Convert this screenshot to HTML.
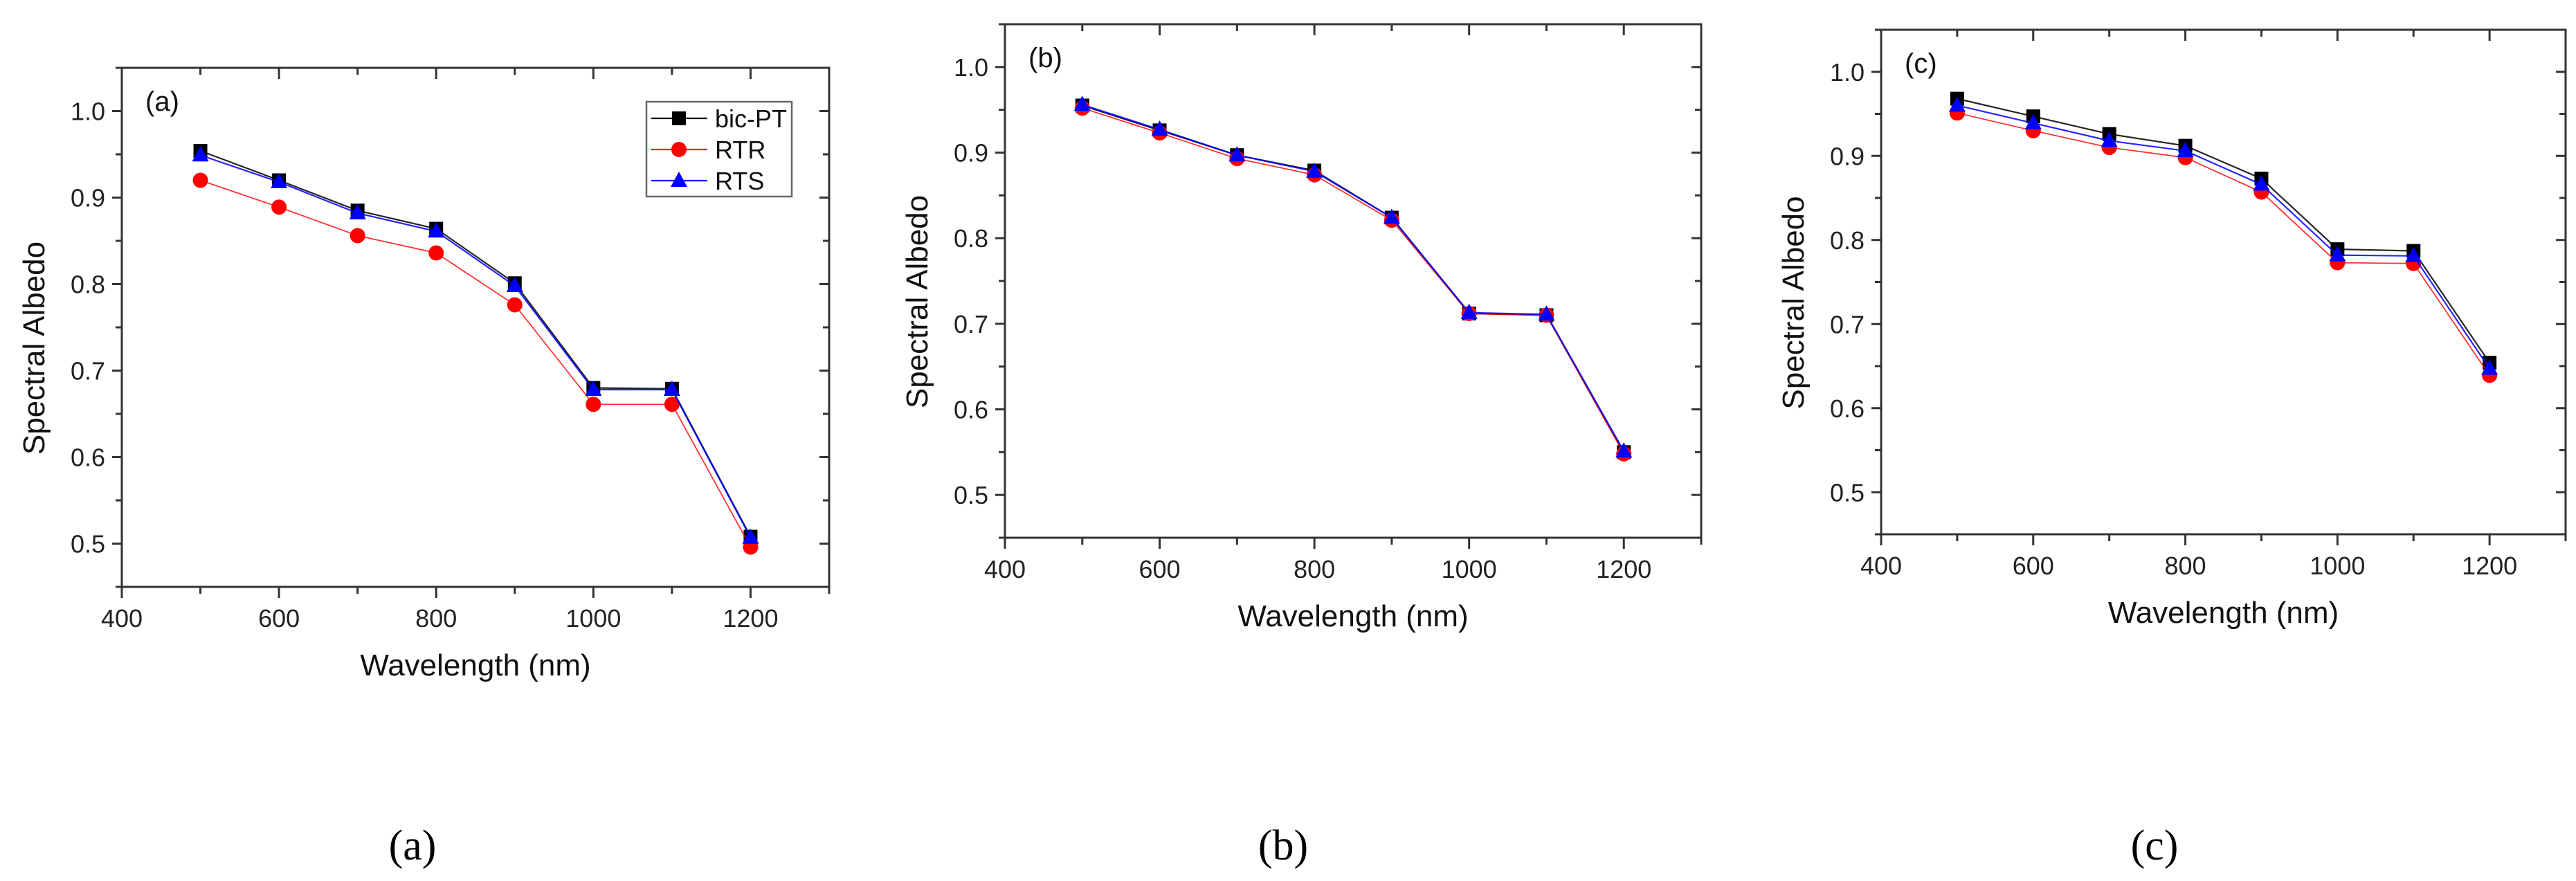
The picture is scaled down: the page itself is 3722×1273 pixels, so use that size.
<!DOCTYPE html>
<html><head><meta charset="utf-8">
<style>
html,body{margin:0;padding:0;background:#fff;}
svg{display:block;font-family:"Liberation Sans",Arial,sans-serif;}
</style></head>
<body>
<svg id="fig" xmlns="http://www.w3.org/2000/svg" width="3722" height="1273" viewBox="0 0 3722 1273">
<rect width="3722" height="1273" fill="#fff"/>
</svg>
<script>
// ---- data ----
const wavelengths = [500, 600, 700, 800, 900, 1000, 1100, 1200];
const xTicks = [400, 600, 800, 1000, 1200];
const yTicks = [0.5, 0.6, 0.7, 0.8, 0.9, 1.0];
const seriesNames = ["bic-PT", "RTR", "RTS"];
const aBicPT = [0.954, 0.920, 0.885, 0.864, 0.801, 0.680, 0.679, 0.508];
const aRTR   = [0.920, 0.889, 0.856, 0.836, 0.776, 0.661, 0.661, 0.496];
const aRTS   = [0.949, 0.918, 0.882, 0.861, 0.798, 0.678, 0.678, 0.507];
const bBicPT = [0.955, 0.926, 0.897, 0.879, 0.824, 0.712, 0.710, 0.550];
const bRTR   = [0.952, 0.923, 0.893, 0.874, 0.821, 0.712, 0.710, 0.548];
const bRTS   = [0.956, 0.927, 0.897, 0.878, 0.824, 0.713, 0.711, 0.551];
const cBicPT = [0.968, 0.947, 0.926, 0.912, 0.873, 0.789, 0.787, 0.654];
const cRTR   = [0.951, 0.930, 0.910, 0.898, 0.857, 0.773, 0.772, 0.639];
const cRTS   = [0.960, 0.939, 0.918, 0.906, 0.866, 0.782, 0.781, 0.647];

// ---- layout ----
const NS = "http://www.w3.org/2000/svg";
const svg = document.getElementById('fig');
const colors = ["#000000", "#ff0000", "#0000ff"];
const panels = [
  {id:"a", L:176, R:1198, T:98, B:848, series:[aBicPT,aRTR,aRTS], legend:true, fs:36, tfs:44, capX:596},
  {id:"b", L:1452, R:2458, T:35, B:777, series:[bBicPT,bRTR,bRTS], legend:false, fs:36, tfs:44, capX:1854},
  {id:"c", L:2718, R:3707, T:43, B:772, series:[cBicPT,cRTR,cRTS], legend:false, fs:36, tfs:44, capX:3113}
];
function mk(tag, attrs, parent){
  const e = document.createElementNS(NS, tag);
  for (const k in attrs) e.setAttribute(k, attrs[k]);
  (parent||svg).appendChild(e);
  return e;
}
function marker(g, i, x, y){
  let m;
  if (i===0) m = mk('rect',{x:x-10,y:y-10,width:20,height:20,fill:colors[0]},g);
  else if (i===1) m = mk('circle',{cx:x,cy:y,r:11,fill:colors[1]},g);
  else m = mk('polygon',{points:`${x},${y-13} ${x+12},${y+9} ${x-12},${y+9}`,fill:colors[2]},g);
  return m;
}
panels.forEach(p=>{
  const xs = v => p.L + (v-400)/(1300-400)*(p.R-p.L);
  const ys = v => p.B - (v-0.45)/(1.05-0.45)*(p.B-p.T);
  const g = mk('g',{});
  
  
  const ax = mk('g',{stroke:'#333','stroke-width':3},g);
  
  
  mk('rect',{x:p.L,y:p.T,width:p.R-p.L,height:p.B-p.T,fill:'none'},ax);
  for (let v=400; v<=1300; v+=100){
    const major = (v%200===0);
    const x = xs(v);
    mk('line',{x1:x,y1:p.B,x2:x,y2:p.B+(major?16:10)},ax);
    mk('line',{x1:x,y1:p.T,x2:x,y2:p.T+(major?16:10)},ax);
  }
  for (let k=0;k<=12;k++){
    const v = 0.45+k*0.05;
    const major = (k%2===1);
    const y = ys(v);
    mk('line',{x1:p.L,y1:y,x2:p.L-(major?14:9),y2:y},ax);
    mk('line',{x1:p.R,y1:y,x2:p.R-(major?14:9),y2:y},ax);
  }
  xTicks.forEach(v=>{
    const t = mk('text',{x:xs(v),y:p.B+58,'text-anchor':'middle','font-size':p.fs,fill:'#222'},g);
    
    
    t.textContent = v;
  });
  yTicks.forEach(v=>{
    const t = mk('text',{x:p.L-24,y:ys(v)+13,'text-anchor':'end','font-size':p.fs,fill:'#222'},g);
    
    
    t.textContent = v.toFixed(1);
  });
  const xt = mk('text',{x:(p.L+p.R)/2-(p.R-p.L)*0.0,y:p.B+128,'text-anchor':'middle','font-size':p.tfs,fill:'#111'},g);
  xt.setAttribute('x', xs(800)+ (xs(850)-xs(800)) );
  
  
  xt.textContent = 'Wavelength (nm)';
  const yc = (p.T+p.B)/2+30, yx = p.L-112;
  const yt = mk('text',{x:yx,y:yc,'text-anchor':'middle','font-size':p.tfs,fill:'#111',transform:`rotate(-90 ${yx} ${yc})`},g);
  
  
  yt.textContent = 'Spectral Albedo';
  const pl = mk('text',{x:p.L+34,y:p.T+62,'font-size':40,fill:'#111'},g);
  
  
  pl.textContent = '('+p.id+')';
  // series
  p.series.forEach((vals,i)=>{
    const sg = mk('g',{},g);
    
    
    const pts = vals.map((v,j)=>xs(wavelengths[j])+','+ys(v)).join(' ');
    mk('polyline',{points:pts,fill:'none',stroke:colors[i],'stroke-width':i===1?1.8:2.2,'stroke-opacity':i===1?0.8:0.85},sg);
    vals.forEach((v,j)=>{
      const m = marker(sg,i,xs(wavelengths[j]),ys(v));
      
      
    });
  });
  if (p.legend){
    const lg = mk('g',{},g);
    
    
    mk('rect',{x:934,y:147,width:210,height:137,fill:'#fff',stroke:'#666','stroke-width':2.5},lg);
    seriesNames.forEach((n,i)=>{
      const y = 171+i*45;
      mk('line',{x1:941,y1:y,x2:1022,y2:y,stroke:colors[i],'stroke-width':2.2},lg);
      const m = marker(lg,i,981,y);
      
      
      const t = mk('text',{x:1033,y:y+13,'font-size':36,fill:'#111'},lg);
      
      
      t.textContent = n;
    });
  }
  const cap = mk('text',{x:p.capX,y:1242,'text-anchor':'middle','font-size':62,fill:'#000','font-family':'"Liberation Serif",serif'},g);
  
  
  cap.textContent = '('+p.id+')';
});
</script>
</body></html>
